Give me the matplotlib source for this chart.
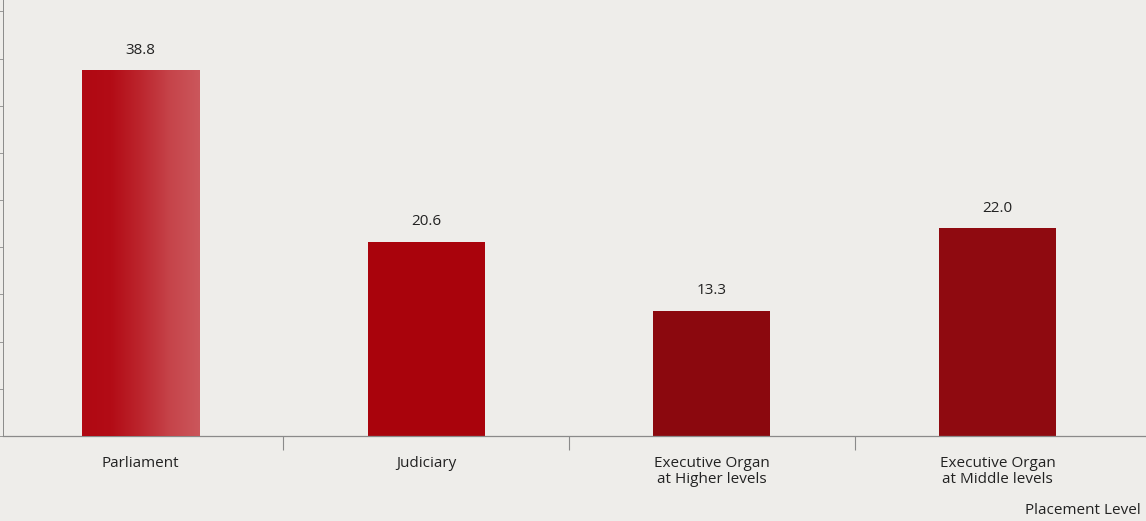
import numpy as np
import matplotlib.pyplot as plt
from matplotlib.colors import LinearSegmentedColormap

categories = ["Parliament", "Judiciary", "Executive Organ\nat Higher levels",
              "Executive Organ\nat Middle levels"]
values = [38.8, 20.6, 13.3, 22.0]
value_labels = ["38.8", "20.6", "13.3", "22.0"]
x_title = "Placement Level"

bg = "#EEEDEA"
bar_colors = ["#B20812", "#A9030C", "#8B080E", "#8F0A10"]
text_color = "#222222"
axis_color = "#8a8a8a"

plt.rcParams["font.family"] = ["Open Sans", "DejaVu Sans"]

fig = plt.figure(figsize=(11.46, 5.21), dpi=100, facecolor=bg)
ax = fig.add_axes([0.003, 0.163, 0.997, 0.837], facecolor=bg)

x = np.arange(len(categories))
bars = ax.bar(x, values, width=0.41, color=bar_colors, zorder=2)

# Lighter sheen across the first bar, fading from left to right
sheen = LinearSegmentedColormap.from_list(
    "sheen", ["#B00812", "#B30C16", "#BC262E", "#C6444A", "#CB575C"])
b0 = bars[0]
x0, w0, h0 = b0.get_x(), b0.get_width(), b0.get_height()
grad = np.linspace(0, 1, 256).reshape(1, -1)
img = ax.imshow(grad, cmap=sheen, aspect="auto", extent=(x0, x0 + w0, 0, h0),
                interpolation="bilinear", zorder=3)
img.set_clip_path(b0)

for xi, v, lab in zip(x, values, value_labels):
    ax.text(xi, v + 1.3, lab, ha="center", va="bottom", fontsize=11, color=text_color)

ax.set_xlim(-0.48, 3.52)
ax.set_ylim(0, 46.2)

ax.set_xticks(x)
ax.set_xticklabels(categories, fontsize=11, color=text_color, linespacing=1.1)
ax.tick_params(axis="x", length=0, pad=14)
ax.set_xticks([0.5, 1.5, 2.5], minor=True)
ax.tick_params(axis="x", which="minor", length=10, width=0.8, color=axis_color, direction="out")

ax.set_yticks(np.arange(0, 46, 5))
ax.set_yticklabels([])
ax.tick_params(axis="y", length=6, width=0.6, color=axis_color, direction="out")

for side in ["top", "right"]:
    ax.spines[side].set_visible(False)
ax.spines["left"].set_color(axis_color)
ax.spines["left"].set_linewidth(0.7)
ax.spines["bottom"].set_color(axis_color)
ax.spines["bottom"].set_linewidth(0.9)

fig.text(0.995, 0.006, x_title, ha="right", va="bottom", fontsize=11, color=text_color)

fig.savefig("out.png", dpi=100, facecolor=bg)
